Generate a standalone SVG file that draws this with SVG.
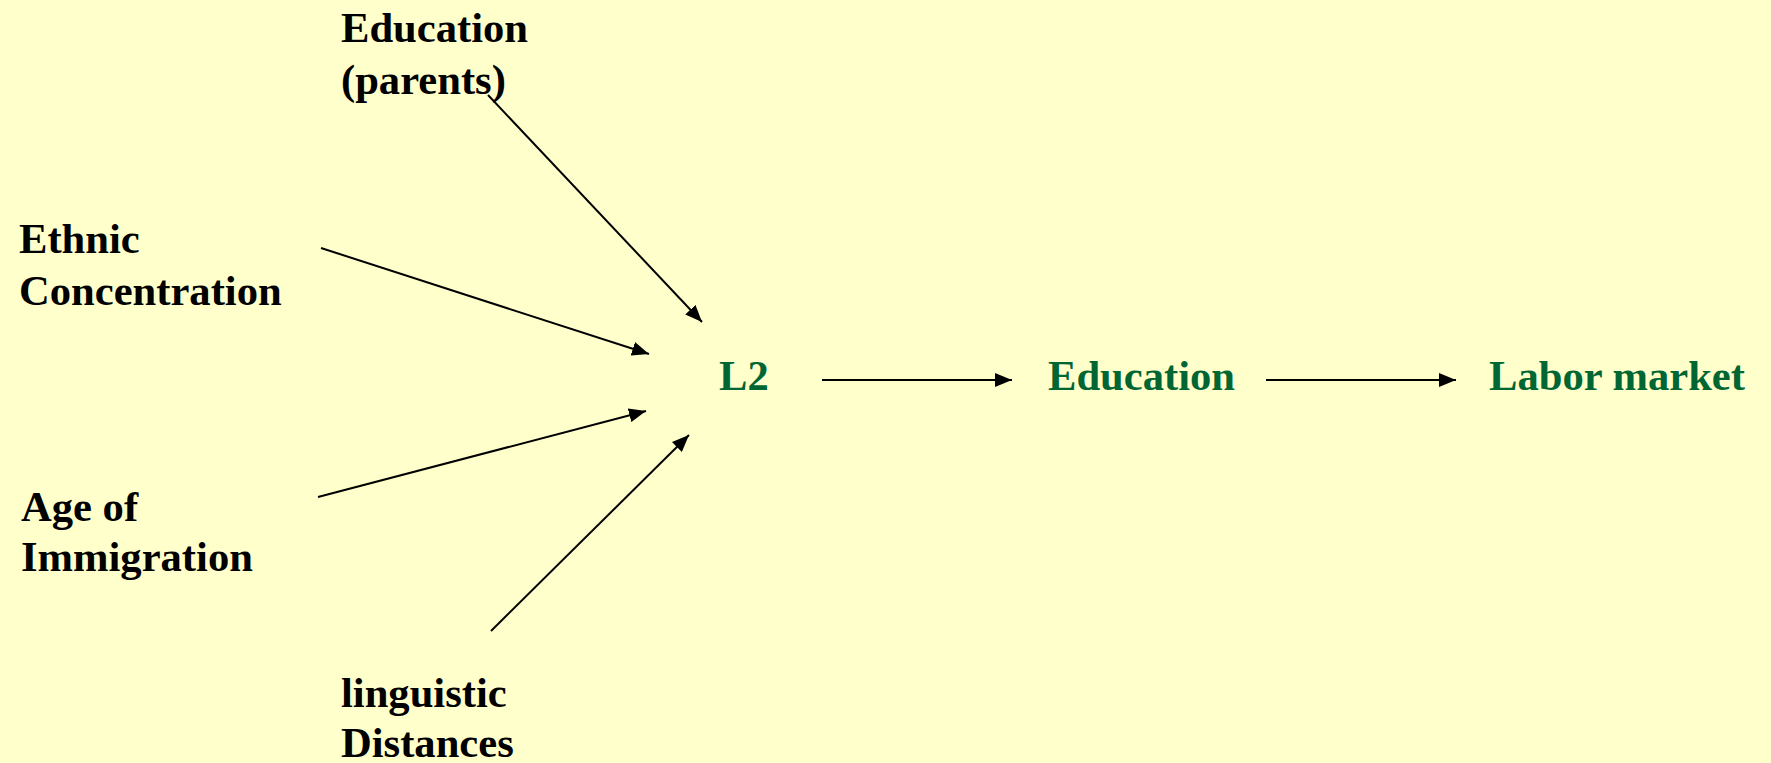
<svg xmlns="http://www.w3.org/2000/svg" width="1771" height="763" viewBox="0 0 1771 763">
  <style>
    .lbl { font-family: "Liberation Serif", "Times New Roman", serif; font-weight: bold; font-size: 42.6px; }
    .src { fill: #000000; }
    .out { fill: #006633; }
    .edge { stroke: #000000; stroke-width: 2; fill: none; marker-end: url(#head); }
  </style>
  <defs>
    <marker id="head" markerUnits="userSpaceOnUse" markerWidth="18" markerHeight="14" refX="17" refY="7" orient="auto">
      <path d="M0,0 L17,7 L0,14 Z" fill="#000000"/>
    </marker>
  </defs>

  <rect x="0" y="0" width="1771" height="763" fill="#FFFFCC"/>

  <!-- factors feeding into L2 -->
  <g id="edu-parents">
    <text class="lbl src" x="341" y="42">Education</text>
    <text class="lbl src" x="341" y="94">(parents)</text>
  </g>
  <g id="ethnic">
    <text class="lbl src" x="19" y="253">Ethnic</text>
    <text class="lbl src" x="19" y="305">Concentration</text>
  </g>
  <g id="age">
    <text class="lbl src" x="21" y="521">Age of</text>
    <text class="lbl src" x="21" y="571">Immigration</text>
  </g>
  <g id="linguistic">
    <text class="lbl src" x="341" y="707">linguistic</text>
    <text class="lbl src" x="341" y="757">Distances</text>
  </g>

  <!-- outcome chain -->
  <g id="l2">
    <text class="lbl out" x="719" y="390">L2</text>
  </g>
  <g id="education">
    <text class="lbl out" x="1048" y="390">Education</text>
  </g>
  <g id="labor">
    <text class="lbl out" x="1489" y="390">Labor market</text>
  </g>

  <g id="connectors">
    <line class="edge" x1="488" y1="95" x2="702" y2="322"/>
    <line class="edge" x1="321" y1="248" x2="649" y2="354"/>
    <line class="edge" x1="318" y1="497" x2="646" y2="411"/>
    <line class="edge" x1="491" y1="631" x2="689" y2="435"/>
    <line class="edge" x1="822" y1="380" x2="1012" y2="380"/>
    <line class="edge" x1="1266" y1="380" x2="1456" y2="380"/>
  </g>
</svg>
